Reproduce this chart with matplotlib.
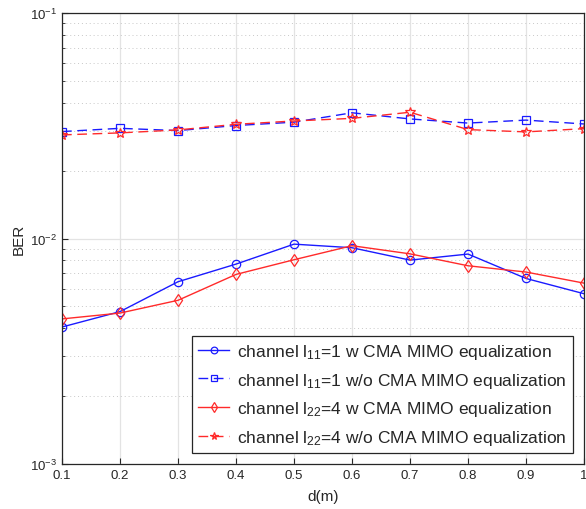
import numpy as np
import matplotlib
matplotlib.use("Agg")
import matplotlib.pyplot as plt
from matplotlib.ticker import LogLocator, NullFormatter

plt.rcParams["font.family"] = ["Liberation Sans", "DejaVu Sans"]
plt.rcParams["mathtext.default"] = "regular"

# ------------------------------------------------------------
# Data
# ------------------------------------------------------------
d = [0.1, 0.2, 0.3, 0.4, 0.5, 0.6, 0.7, 0.8, 0.9, 1.0]

ber_l11_cma = [4.05e-3, 4.74e-3, 6.43e-3, 7.70e-3, 9.44e-3,
               9.10e-3, 8.02e-3, 8.53e-3, 6.65e-3, 5.69e-3]
ber_l11_nocma = [2.98e-2, 3.08e-2, 3.01e-2, 3.17e-2, 3.28e-2,
                 3.61e-2, 3.39e-2, 3.25e-2, 3.35e-2, 3.22e-2]
ber_l22_cma = [4.40e-3, 4.67e-3, 5.32e-3, 6.93e-3, 8.05e-3,
               9.29e-3, 8.55e-3, 7.57e-3, 7.10e-3, 6.34e-3]
ber_l22_nocma = [2.88e-2, 2.94e-2, 3.03e-2, 3.21e-2, 3.32e-2,
                 3.41e-2, 3.63e-2, 3.04e-2, 2.97e-2, 3.07e-2]

labels = [
    r"channel l$_{11}$=1 w CMA MIMO equalization",
    r"channel l$_{11}$=1 w/o CMA MIMO equalization",
    r"channel l$_{22}$=4 w CMA MIMO equalization",
    r"channel l$_{22}$=4 w/o CMA MIMO equalization",
]

xticks = [0.1, 0.2, 0.3, 0.4, 0.5, 0.6, 0.7, 0.8, 0.9, 1]
xticklabels = ["0.1", "0.2", "0.3", "0.4", "0.5", "0.6", "0.7", "0.8", "0.9", "1"]

# ------------------------------------------------------------
# Plot
# ------------------------------------------------------------
fig = plt.figure(figsize=(5.86, 5.10), dpi=100)
ax = fig.add_axes([62 / 586, 45 / 510, 522 / 586, 451 / 510])

ax.grid(True, which="major", color="#e3e3e3", lw=0.9, ls="-")
ax.grid(True, which="minor", axis="y", color="#c8c8c8", lw=0.7, ls=(0, (1, 3)))
ax.set_axisbelow(True)

blue = "#1a1aff"
red = "#ff2a2a"
ax.plot(d, ber_l11_cma, "-", color=blue, lw=1.0, marker="o", ms=6,
        mfc="none", mew=0.9, label=labels[0])
ax.plot(d, ber_l11_nocma, "--", color=blue, lw=1.0, marker="s", ms=5.5,
        mfc="none", mew=0.9, dashes=(7, 4), label=labels[1])
ax.plot(d, ber_l22_cma, "-", color=red, lw=1.0, marker="d", ms=6.5,
        mfc="none", mew=0.9, label=labels[2])
ax.plot(d, ber_l22_nocma, "--", color=red, lw=1.0, marker="*", ms=7,
        mfc="none", mew=0.9, dashes=(7, 4), label=labels[3])

ax.set_yscale("log")
ax.set_ylim(1e-3, 1e-1)
ax.set_xlim(0.1, 1)
ax.yaxis.set_major_locator(LogLocator(base=10, numticks=5))
ax.yaxis.set_minor_locator(LogLocator(base=10, subs=np.arange(2, 10), numticks=20))
ax.yaxis.set_minor_formatter(NullFormatter())
ax.set_xticks(xticks)
ax.set_xticklabels(xticklabels)

ax.tick_params(which="both", direction="in", colors="#262626", labelsize=9.5)
ax.tick_params(which="major", length=4)
ax.tick_params(which="minor", length=2)
for s in ax.spines.values():
    s.set_color("#262626")
    s.set_linewidth(0.9)

ax.set_xlabel("d(m)", fontsize=11, color="#262626", labelpad=6)
ax.set_ylabel("BER", fontsize=11, color="#262626", labelpad=3)

leg = ax.legend(loc="lower right", fontsize=12.5, frameon=True, fancybox=False,
                edgecolor="#262626", framealpha=1, handlelength=1.8,
                borderpad=0.35, labelspacing=0.55, handletextpad=0.45,
                borderaxespad=0.65, markerscale=0.8)
leg.get_frame().set_linewidth(0.9)
for t in leg.get_texts():
    t.set_color("#262626")

fig.savefig("out.png", dpi=100)
